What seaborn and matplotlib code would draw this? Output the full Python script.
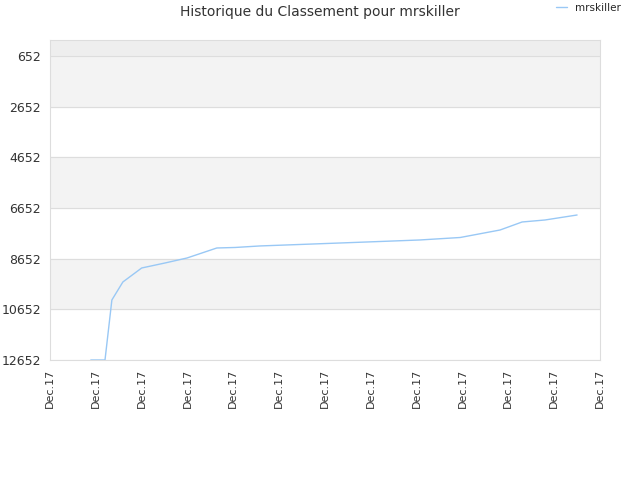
import matplotlib
matplotlib.use("Agg")
import matplotlib.pyplot as plt
import seaborn as sns
import pandas as pd

x_pos = [0.89, 1.2, 1.35, 1.59, 2.0, 2.51, 2.99, 3.64, 4.04, 4.58, 5.45, 6.33, 7.2, 8.07, 8.95, 9.82, 10.3, 10.8, 11.5]
rank = [12652, 12652, 10283, 9572, 9020, 8822, 8625, 8230, 8210, 8150, 8092, 8033, 7974, 7914, 7816, 7520, 7204, 7125, 6928]
tick_labels = ["Dec.17"] * 13
yticks = [652, 2652, 4652, 6652, 8652, 10652, 12652]

sns.set_style("white")
plt.rcParams['font.family'] = ['DejaVu Sans']
fig = plt.figure(figsize=(6.4, 4.8), dpi=100)
ax = fig.add_axes([50/640, 120/480, 550/640, 320/480])
ax.set_ylim(12652, 20)
ax.set_xlim(0, 12)
ax.axhspan(20, 652, color="#eeeeee", zorder=0)
for i, (a, b) in enumerate(zip(yticks[:-1], yticks[1:])):
    if i % 2 == 0:
        ax.axhspan(a, b, color="#f3f3f3", zorder=0)
for y in yticks:
    ax.axhline(y, color="#dddddd", lw=0.8, zorder=1)
df = pd.DataFrame({"x": x_pos, "rank": rank})
sns.lineplot(data=df, x="x", y="rank", ax=ax, color="#99c8f5", lw=1, label="mrskiller", zorder=3)
ax.set_yticks(yticks)
ax.set_yticklabels([str(v) for v in yticks], fontsize=9, color="#333333")
ax.set_xticks(range(13))
ax.set_xticklabels(tick_labels, rotation=90, fontsize=8, color="#333333")
ax.set_xlabel(""); ax.set_ylabel("")
ax.tick_params(axis="both", length=3, color="#cccccc")
for s in ax.spines.values():
    s.set_color("#dddddd")
ax.legend(loc="upper right", bbox_to_anchor=(1.055, 1.145), frameon=False, fontsize=7.5, handlelength=1)
fig.suptitle("Historique du Classement pour mrskiller", fontsize=10, color="#333333", y=0.99)
fig.savefig("out.png", dpi=100)
